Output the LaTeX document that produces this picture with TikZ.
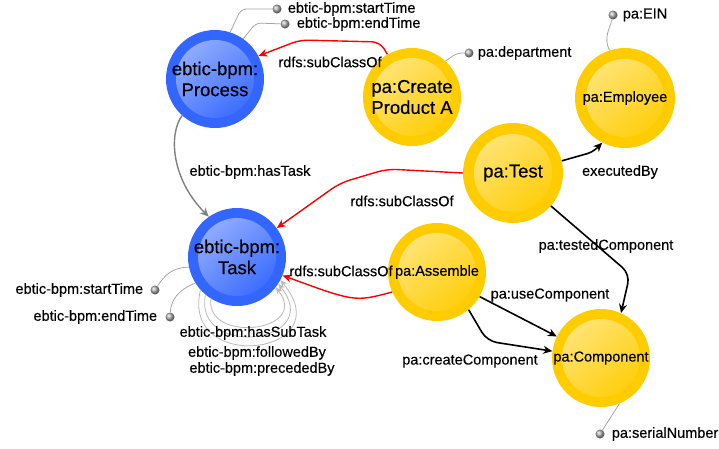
\documentclass[tikz,border=0pt]{standalone}
\usepackage{fontspec}
\setmainfont{Liberation Sans}[FakeBold=0.35]
\usetikzlibrary{positioning,arrows.meta}
\definecolor{bpmblue}{RGB}{51,102,255}
\definecolor{payellow}{RGB}{255,204,0}
\definecolor{attrgray}{RGB}{175,175,175}
\tikzset{
  ball/.style={circle,fill=#1,minimum size=98pt,inner sep=0pt,align=center,
    path picture={\shade[top color=#1!50!white,bottom color=#1,shading angle=40]
      (path picture bounding box.center) circle (39pt);}},
  bigtxt/.style={font=\fontsize{18.5}{21}\selectfont},
  smalltxt/.style={font=\fontsize{14.5}{16}\selectfont},
  attr/.style={circle,inner sep=0pt,minimum size=9pt,shading=ball,ball color=attrgray},
  lbl/.style={inner sep=0pt,font=\fontsize{14.5}{16}\selectfont},
  attrline/.style={draw=gray!70,line width=.8pt},
  subcls/.style={->,red,line width=1.4pt},
  prop/.style={->,black,line width=1.6pt},
  selfloop/.style={->,gray!55,line width=.8pt,>={Stealth[length=7pt,width=6pt]}},
}
\begin{document}
\begin{tikzpicture}[x=1pt,y=-1pt,>={Stealth[length=9pt,width=8pt]}]
\useasboundingbox (0,0) rectangle (719,448);
% classes
\node[ball=bpmblue,bigtxt] (process) at (215,79) {ebtic-bpm:\\Process};
\node[ball=bpmblue,bigtxt] (task) at (237,257) {ebtic-bpm:\\Task};
\node[ball=payellow,bigtxt] (create) at (412,97) {pa:Create\\Product A};
\node[ball=payellow,smalltxt,minimum size=100pt] (employee) at (625,98) {pa:Employee};
\node[ball=payellow,bigtxt,minimum size=100pt] (test) at (513,173) {pa:Test};
\node[ball=payellow,smalltxt] (assemble) at (437,272) {pa:Assemble};
\node[ball=payellow,smalltxt] (component) at (601,358) {pa:Component};
% attributes
\node[attr] (pstart) at (277,9) {};
\node[lbl,right=6pt of pstart] (pstartlbl) {ebtic-bpm:startTime};
\node[attr] (pend) at (285,24) {};
\node[lbl,right=7pt of pend] (pendlbl) {ebtic-bpm:endTime};
\node[attr] (dept) at (469,53) {};
\node[lbl,right=4pt of dept] (deptlbl) {pa:department};
\node[attr] (ein) at (613,15) {};
\node[lbl,right=5pt of ein] (einlbl) {pa:EIN};
\node[attr] (serial) at (600,434) {};
\node[lbl,right=7pt of serial] (seriallbl) {pa:serialNumber};
\node[attr] (tstart) at (155,290) {};
\node[lbl,left=7pt of tstart] (tstartlbl) {ebtic-bpm:startTime};
\node[attr] (tend) at (170,317) {};
\node[lbl,left=8pt of tend] (tendlbl) {ebtic-bpm:endTime};
\draw[attrline,rounded corners=5pt] (process.72) -- (241,9) -- (pstart);
\draw[attrline,rounded corners=5pt] (process.55) -- (256,23) -- (pend);
\draw[attrline,rounded corners=5pt] (create.47) -- (457,53) -- (dept);
\draw[attrline] (employee.108) .. controls (603,38) and (610,28) .. (ein);
\draw[attrline] (component.-68) -- (serial);
\draw[attrline] (task.192) .. controls (172,267) and (164,276) .. (tstart);
\draw[attrline] (task.212) .. controls (178,290) and (171,300) .. (tend);
% relations
\draw[subcls,rounded corners=8pt] (create.120) -- (380,42) -- (300,40) -- (process.28);
\node[lbl] (sub1) at (330,62) {rdfs:subClassOf};
\draw[->,gray,line width=1.4pt] (process.228) .. controls (168,135) and (172,180) .. (task.125);
\node[lbl] (hastask) at (250,172) {ebtic-bpm:hasTask};
\draw[subcls,rounded corners=10pt] (test.180) -- (387,169) -- (340,183) -- (task.36);
\node[lbl] (sub2) at (402,201) {rdfs:subClassOf};
\draw[subcls] (assemble.204) .. controls (355,302) .. (task.-22);
\node[lbl] (sub3) at (341,271) {rdfs:subClassOf};
\draw[prop,rounded corners=6pt] (test.14) -- (593,152) -- (employee.243);
\node[lbl] (exec) at (620,172) {executedBy};
\draw[prop,rounded corners=10pt] (test.-41) -- (630,274) -- (component.66);
\node[lbl] (tested) at (606,246) {pa:testedComponent};
\draw[prop] (assemble.-30) -- (component.154);
\node[lbl] (use) at (550,295) {pa:useComponent};
\draw[prop,rounded corners=10pt] (assemble.-50) -- (487,341) -- (component.172);
\node[lbl] (createc) at (470,361) {pa:createComponent};
% self loops on task
\draw[selfloop] (task.238) .. controls +(-6,45) and +(35,45) .. (task.-38);
\draw[selfloop] (task.230) .. controls +(-12,65) and +(48,60) .. (task.-33);
\draw[selfloop] (task.222) .. controls +(-20,85) and +(62,75) .. (task.-28);
\node[lbl] (subtask) at (253,333) {ebtic-bpm:hasSubTask};
\node[lbl] (followed) at (257,353) {ebtic-bpm:followedBy};
\node[lbl] (preceded) at (262,369) {ebtic-bpm:precededBy};
\end{tikzpicture}
\end{document}
